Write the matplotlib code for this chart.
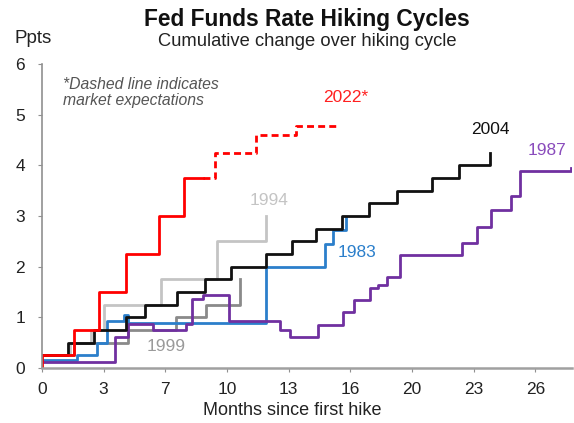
import matplotlib
matplotlib.use("Agg")
from matplotlib import pyplot as plt

plt.rcParams['font.family'] = ['Liberation Sans', 'DejaVu Sans']

# months since first hike / cumulative change (ppts), one point per step
x_2022 = [0, 0, 1.70, 3.03, 4.46, 6.23, 7.56, 8.57]
y_2022 = [0, 0.25, 0.75, 1.5, 2.25, 3.0, 3.75, 3.75]
x_2022_exp = [8.57, 9.21, 11.43, 13.56, 15.64]
y_2022_exp = [3.75, 4.25, 4.60, 4.77, 4.77]

x_2004 = [0, 1.40, 2.79, 4.47, 5.48, 7.17, 8.68, 10.06, 11.96, 13.3,
          14.6, 16.0, 17.4, 18.9, 20.8, 22.2, 23.85]
y_2004 = [0.25, 0.5, 0.75, 1.0, 1.25, 1.5, 1.75, 2.0, 2.25, 2.5,
          2.75, 3.0, 3.25, 3.5, 3.75, 4.0, 4.25]

x_1994 = [0, 1.5, 2.6, 3.32, 6.34, 9.30, 11.91]
y_1994 = [0.25, 0.5, 0.75, 1.25, 1.75, 2.5, 3.0]

x_1999 = [0, 1.7, 4.6, 7.12, 8.72, 10.54]
y_1999 = [0.25, 0.5, 0.75, 1.0, 1.25, 1.75]

x_1983 = [0, 1.85, 2.91, 3.48, 4.37, 4.6, 11.91, 15.07, 15.5, 16.2]
y_1983 = [0.15, 0.25, 0.5, 0.92, 1.05, 0.88, 2.0, 2.45, 2.73, 2.96]

x_1987 = [0, 3.89, 4.6, 5.93, 7.7, 7.97, 8.6, 9.97, 12.67, 13.2, 14.7,
          16.05, 16.6, 17.5, 17.9, 18.4, 19.06, 22.35, 23.2, 23.9, 25.0,
          25.45, 28.2]
y_1987 = [0.11, 0.62, 0.86, 0.75, 0.86, 1.36, 1.44, 0.93, 0.75, 0.61, 0.85,
          1.11, 1.34, 1.57, 1.64, 1.80, 2.23, 2.46, 2.79, 3.12, 3.39,
          3.88, 3.95]

# ticks every 100 days, labelled in months
tick_days = [0, 100, 200, 300, 400, 500, 600, 700, 800]
tick_labels = ['0', '3', '7', '10', '13', '16', '20', '23', '26']

fig = plt.figure(figsize=(5.74, 4.23), dpi=100)
ax = fig.add_axes([0.073, 0.130, 0.924, 0.719])

lw = 2.0
ax.plot(x_1994, y_1994, drawstyle='steps-post', color='#c4c4c4', lw=lw)
ax.plot(x_1999, y_1999, drawstyle='steps-post', color='#8a8a8a', lw=lw)
ax.plot(x_1983, y_1983, drawstyle='steps-post', color='#2b7fcb', lw=lw)
ax.plot(x_1987, y_1987, drawstyle='steps-post', color='#7030a0', lw=lw)
ax.plot(x_2004, y_2004, drawstyle='steps-post', color='#111111', lw=lw)
ax.plot(x_2022, y_2022, drawstyle='steps-post', color='#ff0000', lw=lw)
ax.plot(x_2022_exp, y_2022_exp, drawstyle='steps-post', color='#ff0000',
        lw=lw, dashes=(2.5, 1.5))

# series labels
fs = 12.5
ax.text(16.2, 5.34, '2022*', color='#ff2020', fontsize=fs, ha='center', va='center')
ax.text(23.9, 4.70, '2004', color='#111111', fontsize=fs, ha='center', va='center')
ax.text(26.9, 4.30, '1987', color='#8a4cbc', fontsize=fs, ha='center', va='center')
ax.text(12.1, 3.30, '1994', color='#c4c4c4', fontsize=fs, ha='center', va='center')
ax.text(16.8, 2.27, '1983', color='#2b7fcb', fontsize=fs, ha='center', va='center')
ax.text(6.6, 0.43, '1999', color='#9a9a9a', fontsize=fs, ha='center', va='center')
ax.text(1.12, 5.43, '*Dashed line indicates\nmarket expectations', color='#555555',
        fontsize=11.3, style='italic', ha='left', va='center', linespacing=1.1)

days_to_months = 12 / 365.25
ax.set_xlim(0, 28.25)
ax.set_ylim(0, 6)
ax.set_xticks([d * days_to_months for d in tick_days])
ax.set_xticklabels(tick_labels)
ax.set_yticks(range(0, 7))

for s in ['top', 'right']:
    ax.spines[s].set_visible(False)
ax.spines['left'].set_color('#909090')
ax.spines['bottom'].set_color('#a0a0a0')
ax.spines['bottom'].set_linewidth(1.8)
ax.spines['left'].set_linewidth(1.2)
ax.tick_params(axis='both', colors='#909090', labelcolor='#222222',
               labelsize=12.5, length=3, direction='out')
ax.tick_params(axis='y', pad=9)
ax.tick_params(axis='x', pad=7)

ax.set_xlabel('Months since first hike', fontsize=13, color='#222222')
ax.xaxis.set_label_coords(0.472, -0.113)

fig.text(0.534, 0.953, 'Fed Funds Rate Hiking Cycles', fontsize=16.4,
         fontweight='bold', ha='center', va='center', color='#111111')
fig.text(0.535, 0.901, 'Cumulative change over hiking cycle', fontsize=13.2,
         ha='center', va='center', color='#222222')
fig.text(0.058, 0.908, 'Ppts', fontsize=13.5, ha='center', va='center', color='#222222')

fig.savefig('out.png', dpi=100)
